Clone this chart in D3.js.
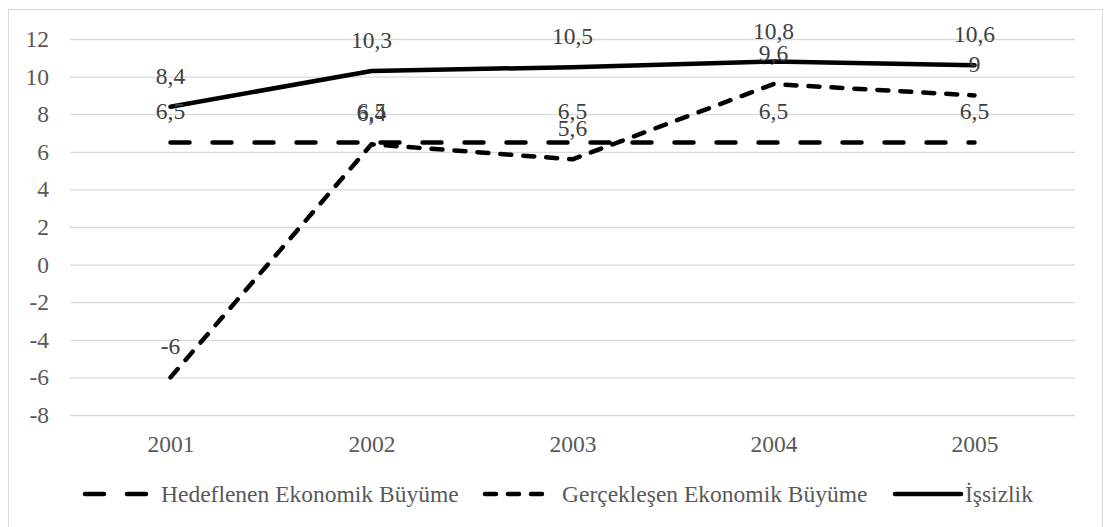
<!DOCTYPE html>
<html>
<head>
<meta charset="utf-8">
<script src="https://cdn.jsdelivr.net/npm/d3@7"></script>
<style>
  body { margin: 0; background: #fff; }
  svg { display: block; }
  svg text { font-family: "Liberation Serif", "Times New Roman", serif; }
  .tick text { fill: #595959; font-size: 23.5px; }
  .label { fill: #404040; font-size: 23.5px; }
  .legend-text { fill: #595959; font-size: 23.5px; }
</style>
</head>
<body>
<svg width="1105" height="527"></svg>
<script>
"use strict";

const years = ["2001", "2002", "2003", "2004", "2005"];
const hedeflenen = [6.5, 6.5, 6.5, 6.5, 6.5];
const gerceklesen = [-6, 6.4, 5.6, 9.6, 9];
const issizlik = [8.4, 10.3, 10.5, 10.8, 10.6];
const yTicks = [-8, -6, -4, -2, 0, 2, 4, 6, 8, 10, 12];

const seriesNames = [
  "Hedeflenen Ekonomik Büyüme",
  "Gerçekleşen Ekonomik Büyüme",
  "İşsizlik"
];

const svg = d3.select("svg");
const width = +svg.attr("width");

// chart area border
svg.append("rect")
  .attr("x", 8.5)
  .attr("y", 9.5)
  .attr("width", 1094)
  .attr("height", 530)
  .attr("fill", "none")
  .attr("stroke", "#d9d9d9");

const margin = { top: 39, right: 30, left: 70 };
const innerWidth = width - margin.left - margin.right;
const innerHeight = 415 - margin.top;

const g = svg.append("g")
  .attr("transform", `translate(${margin.left},${margin.top})`);

const xScale = d3.scalePoint()
  .domain(years)
  .range([0, innerWidth])
  .padding(0.5);

const yScale = d3.scaleLinear()
  .domain([-8, 12])
  .range([innerHeight, 0]);

const yAxis = d3.axisLeft(yScale)
  .tickValues(yTicks)
  .tickSize(-innerWidth)
  .tickFormat(d => String(d));

const yAxisG = g.append("g").call(yAxis)
  .attr("font-family", null)
  .attr("font-size", null);
yAxisG.select(".domain").remove();
yAxisG.selectAll(".tick line").attr("stroke", "#d9d9d9").attr("stroke-width", 1.3);
yAxisG.selectAll(".tick text").attr("x", -21);

const xAxis = d3.axisBottom(xScale).tickSize(0).tickPadding(20);
const xAxisG = g.append("g")
  .attr("transform", `translate(0,${innerHeight})`)
  .call(xAxis)
  .attr("font-family", null)
  .attr("font-size", null);
xAxisG.select(".domain").remove();

const series = [
  { name: seriesNames[0], values: hedeflenen, dash: "19,23" },
  { name: seriesNames[1], values: gerceklesen, dash: "11,12" },
  { name: seriesNames[2], values: issizlik, dash: null }
];

const line = d3.line()
  .x((d, i) => xScale(years[i]))
  .y(d => yScale(d));

series.forEach(s => {
  const path = g.append("path")
    .datum(s.values)
    .attr("fill", "none")
    .attr("stroke", "#000")
    .attr("stroke-width", 4.5)
    .attr("stroke-linecap", "round")
    .attr("stroke-linejoin", "round")
    .attr("d", line);
  if (s.dash) path.attr("stroke-dasharray", s.dash);
});

const fmt = v => String(v).replace(".", ",");

series.forEach(s => {
  g.selectAll(null)
    .data(s.values)
    .enter()
    .append("text")
    .attr("class", "label")
    .attr("x", (d, i) => xScale(years[i]))
    .attr("y", d => yScale(d) - 23)
    .attr("text-anchor", "middle")
    .text(fmt);
});

// legend
const legend = svg.append("g").attr("transform", "translate(0,494)");
const legendItems = [
  { x: 85, len: 62, dash: "19,23", textX: 161 },
  { x: 485, len: 60, dash: "11,12", textX: 562 },
  { x: 895, len: 66, dash: null, textX: 965 }
];

legendItems.forEach((item, i) => {
  const l = legend.append("line")
    .attr("x1", item.x)
    .attr("x2", item.x + item.len)
    .attr("y1", 0)
    .attr("y2", 0)
    .attr("stroke", "#000")
    .attr("stroke-width", 4.5)
    .attr("stroke-linecap", "round");
  if (item.dash) l.attr("stroke-dasharray", item.dash);

  legend.append("text")
    .attr("class", "legend-text")
    .attr("x", item.textX)
    .attr("y", 0)
    .attr("dy", "0.35em")
    .text(seriesNames[i]);
});
</script>
</body>
</html>
